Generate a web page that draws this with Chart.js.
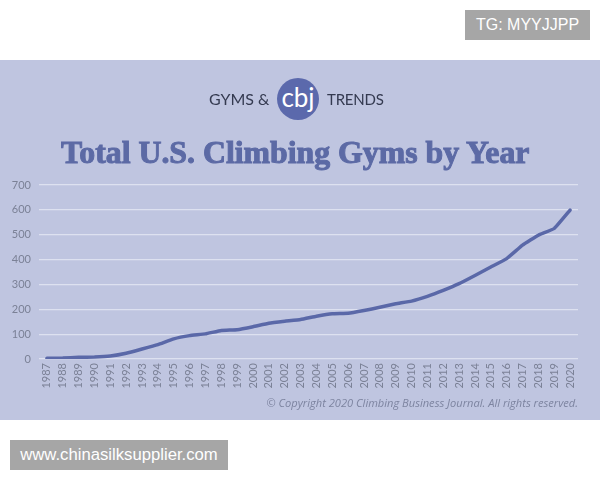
<!DOCTYPE html>
<html>
<head>
<meta charset="utf-8">
<script src="https://cdn.jsdelivr.net/npm/chart.js@4"></script>
<style>
body { margin: 0; background: #fff; width: 600px; height: 480px; overflow: hidden; position: relative; font-family: "Open Sans", sans-serif; }
#panel { position: absolute; left: 0; top: 60px; width: 600px; height: 360px; background: #bfc5e0; }
#wrap { position: absolute; left: 0; top: 170px; width: 600px; height: 230px; filter: blur(0.35px); }
.abs { position: absolute; white-space: nowrap; }
#logoA, #logoB { top: 89px; font-family: Lato, sans-serif; font-size: 16px; line-height: 20px; color: #343a50; filter: blur(0.3px); }
#logoA { left: 209px; }
#logoB { left: 327px; font-size: 15px; letter-spacing: -0.2px; }
#circle { left: 277px; top: 78px; width: 42px; height: 42px; border-radius: 50%; background: #5b69ac; color: #fff; text-align: center; font-family: Lato, sans-serif; font-size: 26px; line-height: 38px; font-weight: 400; }
#title { left: 61px; top: 135px; font-family: "Liberation Serif", serif; font-weight: 700; font-size: 31.8px; line-height: 36px; color: #5c6aa5; -webkit-text-stroke: 1px #5c6aa5; filter: blur(0.3px); }
#copy { right: 22px; top: 395px; font-family: "Open Sans", sans-serif; font-style: italic; font-size: 11.1px; line-height: 16px; color: #7d84a0; filter: blur(0.25px); }
#tg { left: 465px; top: 10px; width: 125px; height: 30px; background: #a6a6a6; color: #fff; font-size: 16px; line-height: 30px; text-align: center; font-family: "Liberation Sans", sans-serif; }
#site { left: 10px; top: 440px; width: 218px; height: 30px; background: #a6a6a6; color: #fff; font-size: 16.7px; line-height: 30px; text-align: center; font-family: "Liberation Sans", sans-serif; }
</style>
</head>
<body>
<div id="panel"></div>
<div id="wrap"><canvas id="myChart"></canvas></div>
<div class="abs" id="logoA">GYMS &amp;</div>
<div class="abs" id="circle">cbj</div>
<div class="abs" id="logoB">TRENDS</div>
<div class="abs" id="title">Total U.S. Climbing Gyms by Year</div>
<div class="abs" id="copy">© Copyright 2020 Climbing Business Journal. All rights reserved.</div>
<div class="abs" id="tg">TG: MYYJJPP</div>
<div class="abs" id="site">www.chinasilksupplier.com</div>
<script>
let years = ['1987', '1988', '1989', '1990', '1991', '1992', '1993', '1994', '1995', '1996', '1997', '1998',
    '1999', '2000', '2001', '2002', '2003', '2004', '2005', '2006', '2007', '2008', '2009', '2010', '2011',
    '2012', '2013', '2014', '2015', '2016', '2017', '2018', '2019', '2020'];
let gyms = [3, 4, 7, 8, 12, 23, 40, 58, 81, 94, 101, 115, 118, 130, 144, 152, 159, 172, 182, 184, 195, 208,
    222, 233, 252, 276, 303, 336, 370, 404, 458, 498, 525, 599];
let yTicks = [0, 100, 200, 300, 400, 500, 600, 700];

let ctx = document.getElementById('myChart').getContext('2d');
let myChart = new Chart(ctx, {
    type: 'line',
    data: {
        labels: years,
        datasets: [{
            data: gyms,
            borderColor: '#5a68a8',
            borderWidth: 3.5,
            pointRadius: 0,
            tension: 0.1,
            borderCapStyle: 'round'
        }]
    },
    options: {
        responsive: true,
        maintainAspectRatio: false,
        animation: false,
        layout: { padding: { left: 0, right: 22, top: 15, bottom: 0 } },
        plugins: { legend: { display: false }, tooltip: { enabled: false } },
        scales: {
            x: {
                offset: true,
                grid: { display: false, drawTicks: false },
                border: { display: false },
                ticks: {
                    minRotation: 90,
                    maxRotation: 90,
                    autoSkip: false,
                    padding: 4,
                    color: '#7b8196',
                    font: { family: 'Lato', size: 11 }
                },
                afterFit: function(scale){ scale.height = 41; }
            },
            y: {
                min: 0,
                max: 700,
                afterBuildTicks: function(scale){
                    scale.ticks = yTicks.map(function(v){ return { value: v }; });
                },
                grid: { color: '#dde1f0', lineWidth: 1.2, drawTicks: false },
                border: { display: false },
                ticks: {
                    padding: 8,
                    color: '#7b8196',
                    font: { family: 'Lato', size: 11 }
                },
                afterFit: function(scale){ scale.width = 39; }
            }
        }
    }
});
</script>
</body>
</html>
